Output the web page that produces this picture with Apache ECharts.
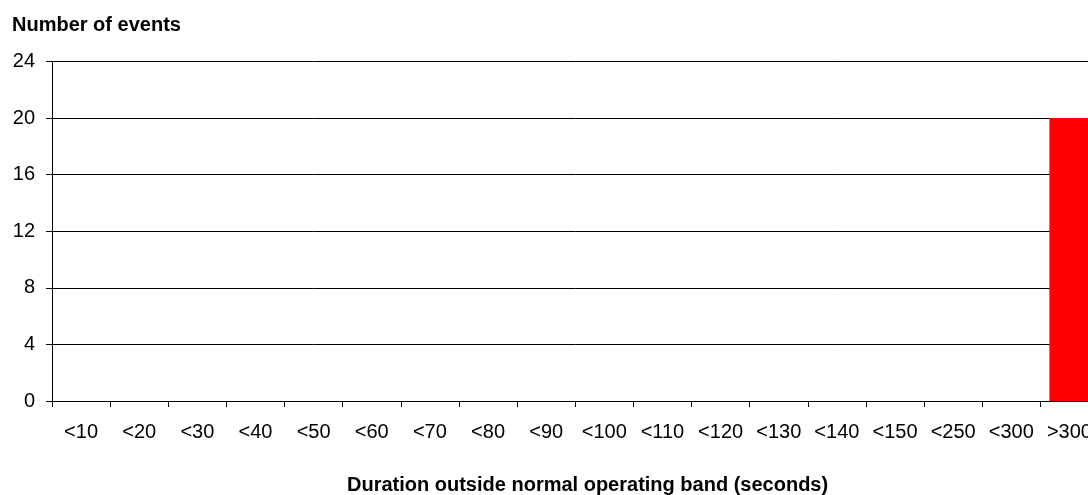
<!DOCTYPE html>
<html><head><meta charset="utf-8">
<script src="https://cdn.jsdelivr.net/npm/echarts@6/dist/echarts.min.js"></script>
<style>html,body{margin:0;padding:0;background:#fff;overflow:hidden;width:1088px;height:495px}#c{width:1100px;height:495px}</style>
</head><body><div id="c"></div>
<script>
const categories = ['<10','<20','<30','<40','<50','<60','<70','<80','<90','<100','<110','<120','<130','<140','<150','<250','<300','>300'];
const events = [0,0,0,0,0,0,0,0,0,0,0,0,0,0,0,0,0,20];
const yTicks = [0,4,8,12,16,20,24];
const yTitle = 'Number of events';
const xTitle = 'Duration outside normal operating band (seconds)';

const chart = echarts.init(document.getElementById('c'), null, {renderer:'canvas', width:1100, height:495});
chart.setOption({
  animation:false,
  backgroundColor:'#fff',
  grid:{left:52, top:61.5, width:1046.5, bottom:94, containLabel:false},
  xAxis:{type:'category', data:categories, boundaryGap:true,
    axisLine:{lineStyle:{color:'#000',width:1}},
    axisTick:{show:true, length:6, alignWithLabel:false, lineStyle:{color:'#000'}},
    axisLabel:{color:'#000', fontFamily:'Liberation Sans, Arial', fontSize:20, margin:21, interval:0},
    splitLine:{show:false}},
  yAxis:{type:'value', min:yTicks[0], max:yTicks[yTicks.length-1], interval:4,
    axisLine:{show:true, lineStyle:{color:'#000',width:1}},
    axisTick:{show:true, length:6, lineStyle:{color:'#000'}},
    axisLabel:{color:'#000', fontFamily:'Liberation Sans, Arial', fontSize:20, margin:17},
    splitLine:{show:true, lineStyle:{color:'#000', width:1}}},
  graphic:[
    {type:'text', x:12, y:25, style:{text:yTitle, fill:'#000', font:'bold 20px "Liberation Sans", Arial', verticalAlign:'middle'}},
    {type:'text', x:347, y:485, style:{text:xTitle, fill:'#000', font:'bold 20px "Liberation Sans", Arial', verticalAlign:'middle'}}
  ],
  series:[{type:'bar', data:events, barCategoryGap:'31%', itemStyle:{color:'#ff0000'}}]
});
</script></body></html>
